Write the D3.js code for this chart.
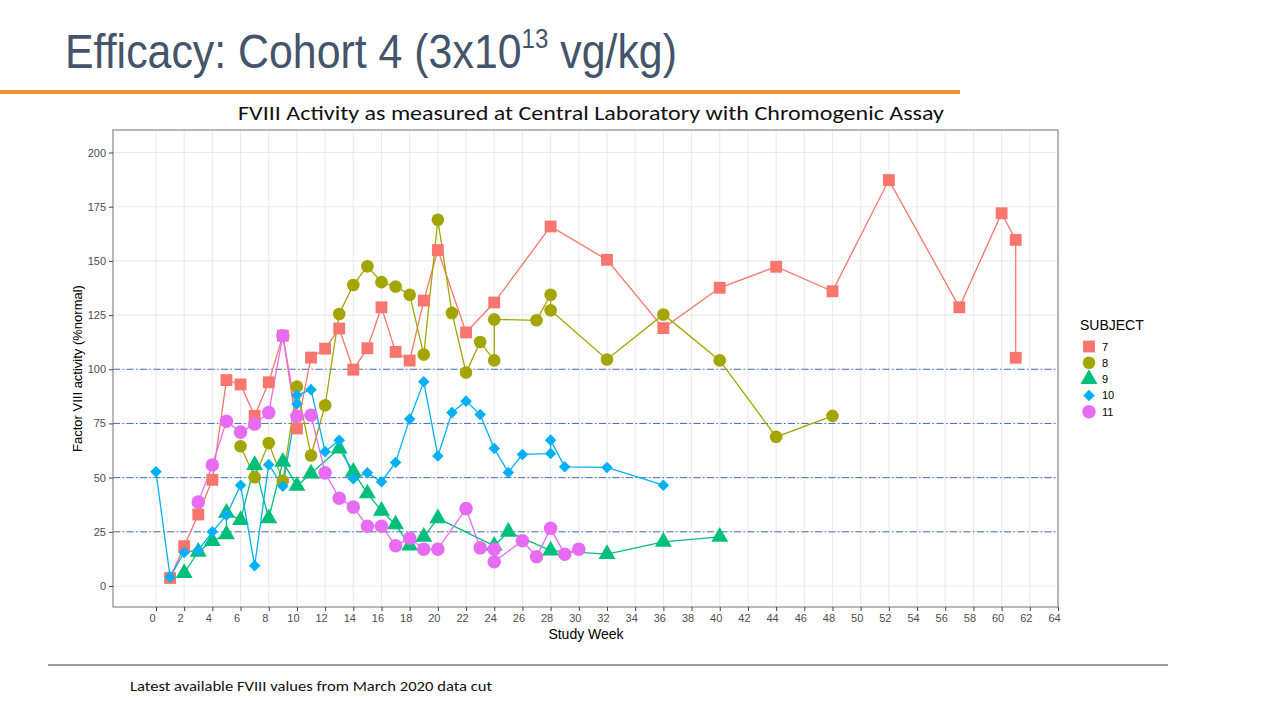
<!DOCTYPE html>
<html><head><meta charset="utf-8">
<script src="https://cdn.jsdelivr.net/npm/d3@7"></script>
<style>
html,body{margin:0;padding:0;background:#fff;}
svg{display:block;}
</style></head>
<body>
<svg id="chart" width="1280" height="720"></svg>
<script>
// ---- data ----
const subjects = ["7", "8", "9", "10", "11"];
const colors = ["#F8766D", "#A3A500", "#00BF7D", "#00B0F6", "#E76BF3"];
const shapes = ["square", "circle", "triangle", "diamond", "circle"];

const weeks7  = [1,2,3,4,5,6,7,8,9,10,11,12,13,14,15,16,17,18,19,20,22,24,28,32,36,40,44,48,52,57,60,61,61];
const values7 = [3.7,18.4,33,49,95,93,78.5,94,115.5,72.7,105.4,109.5,118.8,99.8,109.7,128.6,108,104,131.7,155,117,130.8,165.9,150.5,119,137.6,147.3,136,187.3,128.6,172,159.7,105.3];

const weeks8  = [6,7,8,9,10,11,12,13,14,15,16,17,18,19,20,21,22,23,24,24,27,28,28,32,36,40,44,48];
const values8 = [64.5,50.2,66,48.5,92,60.2,83.4,125.5,138.9,147.5,140.2,138.2,134.4,106.8,169,126,98.5,112.6,104.1,123,122.6,134.4,127.2,104.5,125.3,104.1,68.8,78.5];

const weeks9  = [2,3,4,5,5,6,7,8,9,10,11,13,14,15,16,17,18,19,20,24,25,28,32,36,40];
const values9 = [6,15.8,20.7,23.8,33.8,30.4,55.8,31.2,57.3,46.2,51.9,63.4,52.7,42.7,34.7,28.4,18.6,22.7,31.2,18.5,25,16.3,14.7,20.4,22.7];

const weeks10  = [0,1,2,3,4,5,6,7,8,9,10,10,11,12,13,14,15,16,17,18,19,20,21,22,23,24,25,26,28,28,29,32,36];
const values10 = [52.7,4.2,15.5,16.5,25,32.7,46.5,9.4,56,46,84,88,90.6,62,67.2,49.5,52.2,48.1,57,77.1,94.2,60,80,85.3,79.1,63.4,52.4,60.7,61.1,67.3,55,54.7,46.5];

const weeks11  = [3,4,5,6,7,8,9,10,11,12,13,14,15,16,17,18,19,20,22,23,24,24,26,27,28,29,30];
const values11 = [38.7,55.8,76,71,74.7,80,115.5,78.3,78.8,52.2,40.5,36.4,27.6,27.6,18.6,22,17,17,35.7,17.6,17,11.2,20.9,13.5,26.6,14.7,17];

const xTicks = d3.range(0, 65, 2);
const yTicks = [0, 25, 50, 75, 100, 125, 150, 175, 200];
const refLines = [25, 50, 75, 100];

const seriesWeeks = [weeks7, weeks8, weeks9, weeks10, weeks11];
const seriesValues = [values7, values8, values9, values10, values11];

// ---- layout ----
const svg = d3.select("#chart");
const panel = {left: 113, right: 1058, top: 130, bottom: 607};

const x = d3.scaleLinear().domain([-3.05, 64]).range([panel.left, panel.right]);
const y = d3.scaleLinear().domain([-9.69, 210.4]).range([panel.bottom, panel.top]);

// Title (single text element with superscript tspan, compressed horizontally)
const titleColor = "#44546A";
const titleG = svg.append("g");
const title = titleG.append("text").attr("x", 0).attr("y", 0)
  .attr("font-family", "Liberation Sans, Arial, sans-serif").attr("font-size", 48)
  .attr("fill", titleColor);
title.append("tspan").text("Efficacy: Cohort 4 (3x10");
title.append("tspan").attr("font-size", 27).attr("dy", -20).text("13");
title.append("tspan").attr("dy", 20).text(" vg/kg)");
const tw = title.node().getComputedTextLength();
titleG.attr("transform", `translate(65,68) scale(${612 / tw},1)`);

svg.append("line").attr("x1", 0).attr("x2", 960).attr("y1", 92).attr("y2", 92)
  .attr("stroke", "#F0962E").attr("stroke-width", 4);

svg.append("text").attr("x", 591).attr("y", 120).attr("text-anchor", "middle")
  .attr("font-family", "Carlito, 'Open Sans', sans-serif").attr("font-size", 20)
  .attr("fill", "#111").attr("textLength", 706).attr("lengthAdjust", "spacingAndGlyphs")
  .text("FVIII Activity as measured at Central Laboratory with Chromogenic Assay");

// footer
svg.append("line").attr("x1", 48).attr("x2", 1168).attr("y1", 665).attr("y2", 665)
  .attr("stroke", "#7f7f7f").attr("stroke-width", 1.5);
svg.append("text").attr("x", 130).attr("y", 691)
  .attr("font-family", "Carlito, 'Open Sans', sans-serif").attr("font-size", 14)
  .attr("fill", "#111").attr("textLength", 362).attr("lengthAdjust", "spacingAndGlyphs")
  .text("Latest available FVIII values from March 2020 data cut");

// ---- panel ----
const g = svg.append("g");
g.selectAll("line.vg").data(xTicks).join("line")
  .attr("x1", d => x(d)).attr("x2", d => x(d)).attr("y1", panel.top).attr("y2", panel.bottom)
  .attr("stroke", "#EBEBEB").attr("stroke-width", 1.1);
g.selectAll("line.hg").data(yTicks).join("line")
  .attr("x1", panel.left).attr("x2", panel.right).attr("y1", d => y(d)).attr("y2", d => y(d))
  .attr("stroke", "#EBEBEB").attr("stroke-width", 1.1);
g.selectAll("line.ref").data(refLines).join("line")
  .attr("x1", panel.left).attr("x2", panel.right).attr("y1", d => y(d)).attr("y2", d => y(d))
  .attr("stroke", "#4A6FB8").attr("stroke-width", 1).attr("stroke-dasharray", "7,2.5,1.5,2.5");

const lineGen = d3.line().x(d => x(d[0])).y(d => y(d[1]));
subjects.forEach((s, i) => {
  const pts = seriesWeeks[i].map((w, j) => [w, seriesValues[i][j]]);
  g.append("path").attr("d", lineGen(pts)).attr("fill", "none")
    .attr("stroke", colors[i]).attr("stroke-width", 1.3);
});

const symSize = {square: 140, circle: 125, triangle: 125, diamond: 85};
const symType = {square: d3.symbolSquare, circle: d3.symbolCircle, triangle: d3.symbolTriangle, diamond: d3.symbolDiamond2};
function symPath(shape, scale) {
  return d3.symbol().type(symType[shape]).size(symSize[shape] * (scale || 1))();
}
subjects.forEach((s, i) => {
  const pts = seriesWeeks[i].map((w, j) => [w, seriesValues[i][j]]);
  g.selectAll(null).data(pts).join("path")
    .attr("d", symPath(shapes[i], i === 4 ? 1.15 : 1))
    .attr("transform", d => `translate(${x(d[0])},${y(d[1])})`)
    .attr("fill", colors[i]);
});

svg.append("rect").attr("x", panel.left).attr("y", panel.top)
  .attr("width", panel.right - panel.left).attr("height", panel.bottom - panel.top)
  .attr("fill", "none").attr("stroke", "#8a8a8a").attr("stroke-width", 1.2);

const xAxis = svg.append("g").attr("transform", `translate(0,${panel.bottom})`)
  .call(d3.axisBottom(x).tickValues(xTicks).tickSize(4).tickSizeOuter(0).tickPadding(3));
xAxis.select(".domain").remove();
xAxis.selectAll(".tick line").attr("stroke", "#444");
xAxis.selectAll(".tick text").attr("font-family", "Liberation Sans, Arial, sans-serif")
  .attr("font-size", 11).attr("fill", "#4D4D4D").attr("dx", -4);

const yAxis = svg.append("g").attr("transform", `translate(${panel.left},0)`)
  .call(d3.axisLeft(y).tickValues(yTicks).tickSize(4).tickSizeOuter(0).tickPadding(3));
yAxis.select(".domain").remove();
yAxis.selectAll(".tick line").attr("stroke", "#444");
yAxis.selectAll(".tick text").attr("font-family", "Liberation Sans, Arial, sans-serif")
  .attr("font-size", 11).attr("fill", "#4D4D4D");

svg.append("text").attr("x", 586).attr("y", 639).attr("text-anchor", "middle")
  .attr("font-family", "Liberation Sans, Arial, sans-serif").attr("font-size", 14)
  .attr("fill", "#000").text("Study Week");
svg.append("text").attr("transform", `translate(82,${(panel.top + panel.bottom) / 2}) rotate(-90)`)
  .attr("text-anchor", "middle")
  .attr("font-family", "Liberation Sans, Arial, sans-serif").attr("font-size", 13)
  .attr("fill", "#000").text("Factor VIII activity (%normal)");

const lg = svg.append("g");
lg.append("text").attr("x", 1080).attr("y", 330)
  .attr("font-family", "Liberation Sans, Arial, sans-serif").attr("font-size", 14)
  .attr("fill", "#000").text("SUBJECT");
subjects.forEach((s, i) => {
  const cy = 346.5 + i * 16.3;
  lg.append("path").attr("d", symPath(shapes[i], i === 4 ? 1.15 : 1))
    .attr("transform", `translate(1089,${cy})`).attr("fill", colors[i]);
  lg.append("text").attr("x", 1102).attr("y", cy + 4)
    .attr("font-family", "Liberation Sans, Arial, sans-serif").attr("font-size", 11)
    .attr("fill", "#000").text(s);
});
</script>
</body></html>
